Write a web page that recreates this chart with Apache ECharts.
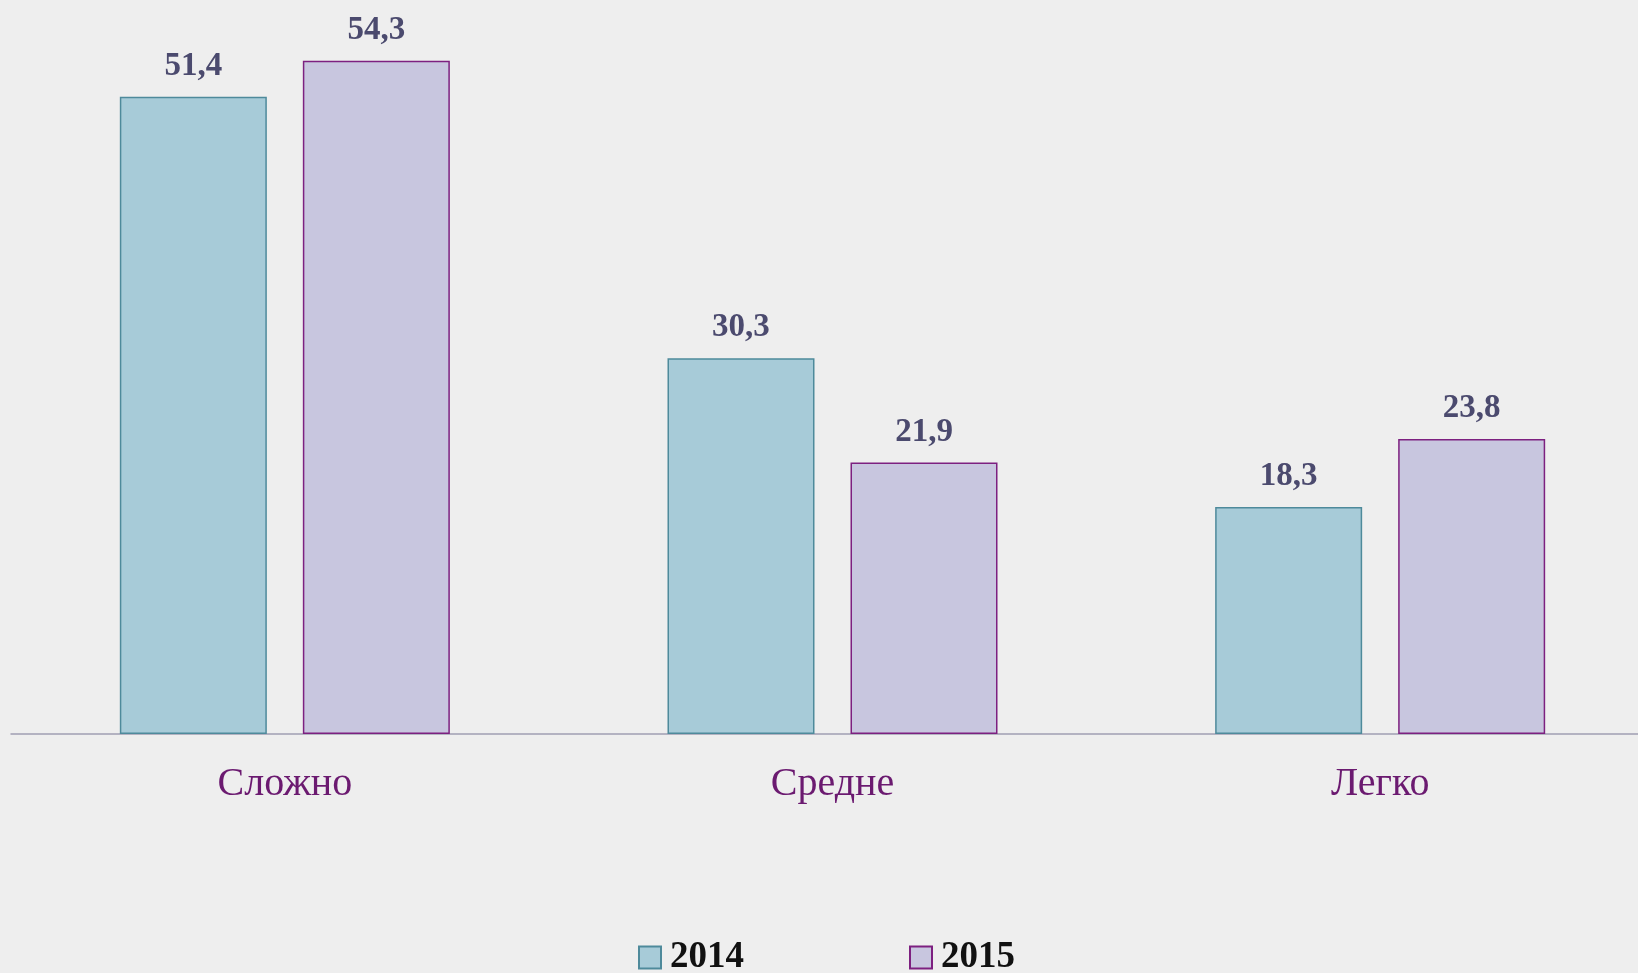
<!DOCTYPE html>
<html>
<head>
<meta charset="utf-8">
<script src="https://cdn.jsdelivr.net/npm/echarts@6/dist/echarts.min.js"></script>
<style>
html,body{margin:0;padding:0;background:#eeeeee;overflow:hidden;}
#chart{width:1654px;height:973px;}
</style>
</head>
<body>
<div id="chart"></div>
<script>
const categories = ['Сложно', 'Средне', 'Легко'];
const seriesNames = ['2014', '2015'];
const values2014 = [51.4, 30.3, 18.3];
const values2015 = [54.3, 21.9, 23.8];

const chart = echarts.init(document.getElementById('chart'));
const fmt = p => String(p.value).replace('.', ',');
const labelStyle = {
  show: true, position: 'top', distance: 14,
  fontFamily: 'Liberation Serif', fontWeight: 'bold', fontSize: 33,
  color: '#4b4a6e', formatter: fmt
};
chart.setOption({
  backgroundColor: '#eeeeee',
  animation: false,
  grid: { left: 11, right: 0, top: 0, bottom: 239, containLabel: false, outerBoundsMode: 'none' },
  legend: {
    left: 633, top: 934,
    itemWidth: 22, itemHeight: 22, itemGap: 165,
    icon: 'rect',
    textStyle: { fontFamily: 'Liberation Serif', fontWeight: 'bold', fontSize: 37, color: '#111111', padding: [0, 0, 0, 4] },
    data: seriesNames
  },
  xAxis: {
    type: 'category', data: categories,
    axisLine: { lineStyle: { color: '#a09fb3', width: 1.5 } },
    axisTick: { show: false },
    axisLabel: { fontFamily: 'Liberation Serif', fontSize: 40, color: '#6b1a70', margin: 30 }
  },
  yAxis: { type: 'value', min: 0, max: 59.2, show: false, splitLine: { show: false } },
  series: [
    {
      name: seriesNames[0], type: 'bar', data: values2014, barWidth: 147, barGap: '24.5%',
      itemStyle: { color: '#a7cbd8', borderColor: '#4e8a9b', borderWidth: 1.5 },
      label: labelStyle
    },
    {
      name: seriesNames[1], type: 'bar', data: values2015, barWidth: 147,
      itemStyle: { color: '#c8c6df', borderColor: '#7d2080', borderWidth: 1.5 },
      label: labelStyle
    }
  ]
});
</script>
</body>
</html>
